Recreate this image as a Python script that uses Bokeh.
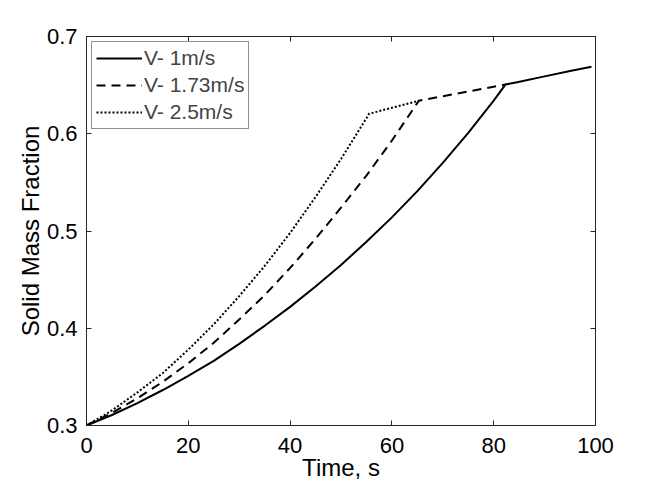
from bokeh.plotting import figure
from bokeh.models import LinearAxis, Legend, LegendItem, FixedTicker, Range1d
from bokeh.embed import file_html
from bokeh.resources import INLINE

# V = 1 m/s
t1 = [0, 5, 10, 15, 20, 25, 30, 35, 40, 45, 50, 55, 60, 65, 70, 75, 80, 82.3, 84.6, 90, 95, 99.2]
m1 = [0.300, 0.3108, 0.323, 0.3365, 0.351, 0.3665, 0.384, 0.4025, 0.422, 0.443, 0.465, 0.489,
      0.514, 0.541, 0.570, 0.601, 0.634, 0.6506, 0.653, 0.659, 0.6645, 0.669]
# V = 1.73 m/s
t2 = [0, 5, 10, 15, 20, 25, 30, 35, 40, 45, 50, 55, 60, 65.3, 82.3]
m2 = [0.300, 0.313, 0.328, 0.345, 0.364, 0.385, 0.409, 0.434, 0.462, 0.492, 0.524, 0.557,
      0.593, 0.634, 0.6506]
# V = 2.5 m/s
t3 = [0, 5, 10, 15, 20, 25, 30, 35, 40, 45, 50, 55, 55.5, 65.3]
m3 = [0.300, 0.3155, 0.334, 0.354, 0.378, 0.404, 0.433, 0.464, 0.498, 0.535, 0.574, 0.616,
      0.6205, 0.634]

labels = ["V- 1m/s", "V- 1.73m/s", "V- 2.5m/s"]
x_ticks = [0, 20, 40, 60, 80, 100]
y_ticks = [0.3, 0.4, 0.5, 0.6, 0.7]

FONT = "Liberation Sans"
AX = "#262626"

p = figure(width=650, height=486, output_backend="svg", toolbar_location=None,
           x_range=Range1d(0, 100), y_range=Range1d(0.3, 0.7),
           min_border_left=86, min_border_right=55, min_border_top=36, min_border_bottom=61)
p.grid.visible = False
p.outline_line_color = AX
p.outline_line_width = 1
p.background_fill_color = "white"
p.border_fill_color = "white"

def style(ax):
    ax.major_tick_in = 5
    ax.major_tick_out = 0
    ax.minor_tick_in = 0
    ax.minor_tick_out = 0
    ax.axis_line_color = AX
    ax.major_tick_line_color = AX
    ax.major_label_text_font = FONT
    ax.major_label_text_font_size = "22px"
    ax.major_label_text_color = "black"
    ax.axis_label_text_font = FONT
    ax.axis_label_text_font_size = "24px"
    ax.axis_label_text_font_style = "normal"
    ax.axis_label_text_color = "black"

xa = p.xaxis[0]
xa.ticker = FixedTicker(ticks=x_ticks)
xa.axis_label = "Time, s"
xa.major_label_standoff = 12
xa.axis_label_standoff = -2
style(xa)

ya = p.yaxis[0]
ya.ticker = FixedTicker(ticks=y_ticks)
ya.axis_label = "Solid Mass Fraction"
ya.major_label_standoff = 9
ya.axis_label_standoff = 0
style(ya)

top = LinearAxis(ticker=FixedTicker(ticks=x_ticks))
style(top)
top.major_label_overrides = {t: "" for t in x_ticks}
p.add_layout(top, "above")
right = LinearAxis(ticker=FixedTicker(ticks=y_ticks))
style(right)
right.major_label_overrides = {t: "" for t in y_ticks}
p.add_layout(right, "right")

r1 = p.line(t1, m1, line_color="black", line_width=2)
r2 = p.line(t2, m2, line_color="black", line_width=2, line_dash="9 6")
r3 = p.line(t3, m3, line_color="black", line_width=2, line_dash="2 2")

legend = Legend(items=[LegendItem(label=labels[0], renderers=[r1]),
                       LegendItem(label=labels[1], renderers=[r2]),
                       LegendItem(label=labels[2], renderers=[r3])],
                location="top_left")
legend.margin = 5
legend.padding = 4
legend.spacing = 3
legend.glyph_width = 46
legend.glyph_height = 24
legend.label_height = 24
legend.label_standoff = 2
legend.label_text_font = FONT
legend.label_text_font_size = "21px"
legend.border_line_color = AX
legend.border_line_width = 1
legend.background_fill_alpha = 1
p.add_layout(legend, "center")

open("out.html", "w").write(file_html(p, INLINE))
